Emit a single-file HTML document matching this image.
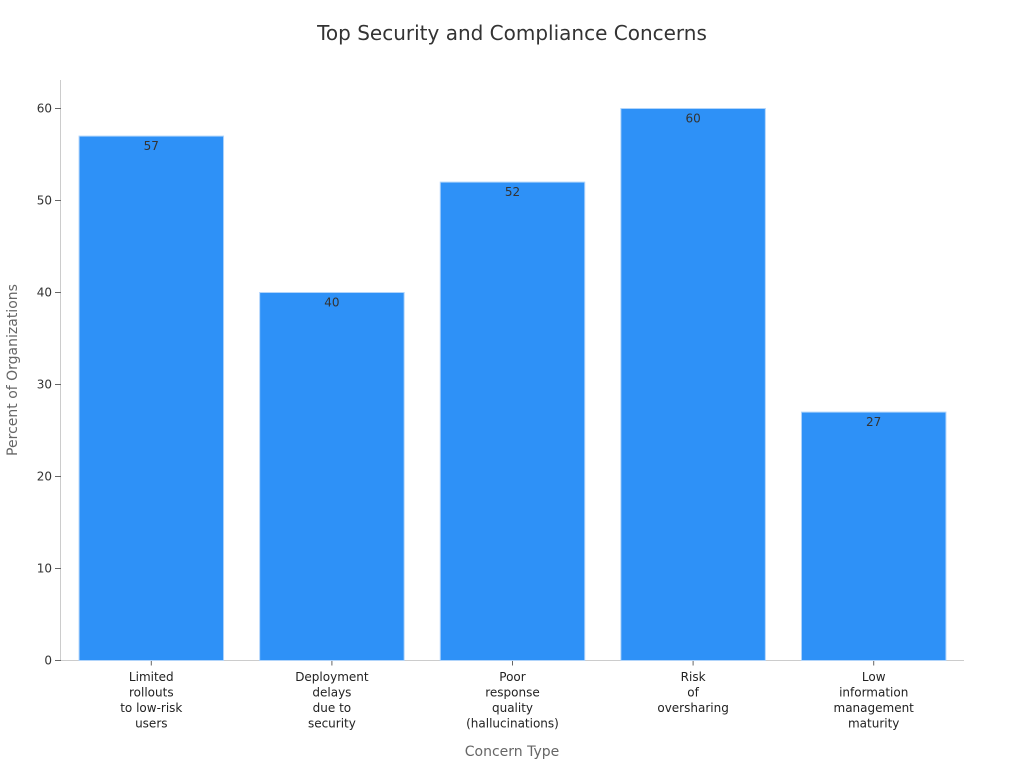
<!DOCTYPE html>
<html><head><meta charset="utf-8"><style>
html,body{margin:0;padding:0;background:#fff;}
svg{display:block;font-family:"DejaVu Sans","Liberation Sans",sans-serif;}
</style></head><body>
<svg id="chart" width="1024" height="768">
<text x="512" y="40" text-anchor="middle" font-size="20" fill="#333">Top Security and Compliance Concerns</text>
<g id="axes"></g>
<g id="bars"></g>
<text x="512" y="756" text-anchor="middle" font-size="14" fill="#666">Concern Type</text>
<text transform="translate(17,370) rotate(-90)" text-anchor="middle" font-size="14" fill="#666">Percent of Organizations</text>
</svg>
<script>
const categories = [["Limited","rollouts","to low-risk","users"],["Deployment","delays","due to","security"],["Poor","response","quality","(hallucinations)"],["Risk","of","oversharing"],["Low","information","management","maturity"]];
const values = [57,40,52,60,27];
const yTicks = [0,10,20,30,40,50,60];
const NS="http://www.w3.org/2000/svg";
const L=61,R=964,T=80,B=660.5;
const y=v=>B-v*(B-108.5)/60;
const band=(R-L)/categories.length;
const xc=i=>L+band*(i+0.5);
function mk(tag,attrs,parent,text){const e=document.createElementNS(NS,tag);for(const k in attrs)e.setAttribute(k,attrs[k]);if(text!=null)e.textContent=text;parent.appendChild(e);return e;}
const ax=document.getElementById('axes'),bg=document.getElementById('bars');
const yl=mk('line',{x1:L-0.5,x2:L-0.5,y1:T,y2:B,stroke:'#ccc'},ax);


const xl=mk('line',{x1:L,x2:R,y1:B,y2:B,stroke:'#ccc'},ax);


yTicks.forEach(t=>{
  mk('line',{x1:L-6,x2:L,y1:y(t),y2:y(t),stroke:'#666'},ax);
  const tx=mk('text',{x:L-9,y:y(t)+4,'text-anchor':'end','font-size':12,fill:'#333'},ax,t);
  
  
});
const bw=band*0.8;
values.forEach((v,i)=>{
  const r=mk('rect',{x:xc(i)-bw/2,y:y(v),width:bw,height:B-y(v),fill:'#2e91f7',stroke:'#b0d4fb','stroke-width':1},bg);
  
  
  const lb=mk('text',{x:xc(i),y:y(v)+14,'text-anchor':'middle','font-size':12,fill:'#333'},bg,v);
  
  
  mk('line',{x1:xc(i),x2:xc(i),y1:B,y2:B+5,stroke:'#666'},ax);
  const g=mk('text',{'text-anchor':'middle','font-size':12,fill:'#222'},ax);
  
  
  categories[i].forEach((ln,j)=>mk('tspan',{x:xc(i),y:681+j*15.5},g,ln));
});
</script>
</body></html>
